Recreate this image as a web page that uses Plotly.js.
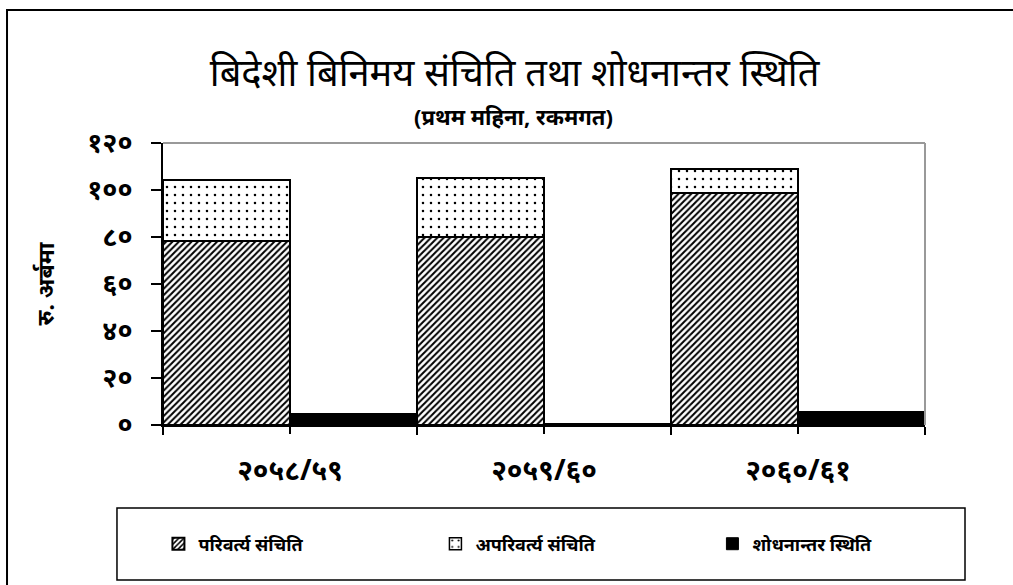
<!DOCTYPE html>
<html><head><meta charset="utf-8">
<script src="https://cdn.plot.ly/plotly-3.0.1.min.js"></script>
<style>body{margin:0;background:#fff}#chart{width:1013px;height:585px}</style>
</head><body><div id="chart"></div>
<script>
const categories = ['२०५८/५९', '२०५९/६०', '२०६०/६१'];
const convertible = [78.3, 80.0, 98.7];
const nonConvertible = [26.0, 25.1, 10.2];
const bopPosition = [5.1, 0.6, 5.8];
const seriesNames = ['परिवर्त्य संचिति', 'अपरिवर्त्य संचिति', 'शोधनान्तर स्थिति'];
const yTickVals = [0, 20, 40, 60, 80, 100, 120];
const yTickText = ['०', '२०', '४०', '६०', '८०', '१००', '१२०'];
const titleText = 'बिदेशी बिनिमय संचिति तथा शोधनान्तर स्थिति';
const subtitleText = '(प्रथम महिना, रकमगत)';
const yTitle = 'रु. अर्बमा';

const FONT = 'Noto Sans, DejaVu Sans, sans-serif';

const traces = [
  {type:'bar', name: seriesNames[0], x: categories, y: convertible, offset: -0.5, width: 0.5,
   marker:{color:'white', pattern:{shape:'/', size:4.5, solidity:0.45, fgcolor:'black', bgcolor:'white', fillmode:'replace'},
   line:{color:'black', width:2}}, xaxis:'x', yaxis:'y'},
  {type:'bar', name: seriesNames[1], x: categories, y: nonConvertible, offset: -0.5, width: 0.5,
   marker:{color:'white', pattern:{shape:'.', size:8, solidity:0.08, fgcolor:'black', bgcolor:'white', fillmode:'replace'},
   line:{color:'black', width:1.5}}, xaxis:'x', yaxis:'y'},
  {type:'bar', name: seriesNames[2], x: categories, y: bopPosition, offset: 0, width: 0.5,
   marker:{color:'black', line:{color:'black', width:1}}, xaxis:'x2', yaxis:'y'}
];

const layout = {
  width:1013, height:585,
  margin:{l:163, r:88, t:143, b:160},
  paper_bgcolor:'white', plot_bgcolor:'white',
  barmode:'stack', bargap:0,
  font:{family:FONT, color:'black'},
  showlegend:true,
  title:{text: titleText, font:{family:FONT, size:38, color:'black'}, x:0.508, xanchor:'center', y:0.875, yanchor:'middle'},
  xaxis:{type:'category', range:[-0.5, 2.5], tickson:'boundaries', ticks:'outside', ticklen:8, tickwidth:1.5, tickcolor:'black',
         showline:true, linecolor:'black', linewidth:2, showgrid:false, zeroline:false,
         tickfont:{family:FONT, size:28, color:'black', weight:'bold'}, ticklabelstandoff:19, fixedrange:true},
  xaxis2:{type:'category', overlaying:'x', side:'bottom', anchor:'y', range:[-0.5, 2.5], ticks:'outside', ticklen:8, tickwidth:1.5,
          tickcolor:'black', showticklabels:false, showline:false, showgrid:false, zeroline:false},
  yaxis:{range:[0,120], tickvals:yTickVals, ticktext:yTickText, ticks:'outside', ticklen:10, tickwidth:1.5, tickcolor:'black',
         showline:true, linecolor:'black', linewidth:2, showgrid:false, zeroline:false,
         tickfont:{family:FONT, size:27, color:'black', weight:'bold'}, ticklabelstandoff:13,
         title:{text: yTitle, font:{family:FONT, size:23, color:'black', weight:'bold'}, standoff:26}},
  legend:{orientation:'h', x:-0.006, xanchor:'left', y:-0.422, yanchor:'middle', bgcolor:'rgba(0,0,0,0)', borderwidth:0,
          entrywidth:232, entrywidthmode:'pixels', traceorder:'normal',
          font:{family:FONT, size:18, color:'black', weight:'bold'}},
  annotations:[
    {text: subtitleText, xref:'paper', yref:'paper', x:0.4606, y:1.095, xanchor:'center', yanchor:'middle', showarrow:false,
     font:{family:FONT, size:22, color:'black', weight:'bold'}}
  ],
  shapes:[
    {type:'rect', xref:'paper', yref:'paper', x0:-0.2047, x1:1.13, y0:1.4716, y1:-0.6, line:{color:'black', width:2}},
    {type:'rect', xref:'paper', yref:'paper', x0:-0.0604, x1:1.0525, y0:-0.2943, y1:-0.5496, line:{color:'black', width:1.5}},
    {type:'line', xref:'paper', yref:'paper', x0:0, x1:1, y0:1, y1:1, line:{color:'#999', width:2}},
    {type:'line', xref:'paper', yref:'paper', x0:1, x1:1, y0:0, y1:1, line:{color:'#999', width:2}}
  ]
};
Plotly.newPlot('chart', traces, layout, {displayModeBar:false, staticPlot:true});
</script></body></html>
